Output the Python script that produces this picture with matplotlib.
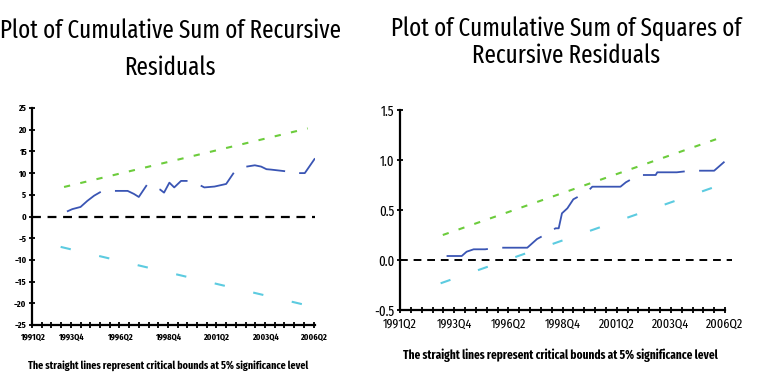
import matplotlib
matplotlib.use("Agg")
import matplotlib.pyplot as plt
from matplotlib.ticker import MultipleLocator

NARROW = ["Fira Sans Extra Condensed", "Archivo Narrow", "DejaVu Sans"]

# quarter index on the x axis (0 = 1991Q2)
tick_pos_cusum = [0, 8, 18, 28, 38, 48, 58]
tick_pos_cusq = [0, 10, 20, 30, 40, 50, 60]
tick_labels = ["1991Q2", "1993Q4", "1996Q2", "1998Q4", "2001Q2", "2003Q4", "2006Q2"]

# CUSUM of recursive residuals
cusum_q = [7.2, 8.3, 10.0, 11.4, 12.8, 14.5, 17.2, 19.7, 21.0, 22.0, 23.8,
           26.4, 27.2, 28.3, 29.3, 30.7, 33.1, 34.1, 35.5, 37.6, 40.0,
           41.7, 43.1, 45.9, 47.2, 48.3, 49.3, 52.4, 53.1, 56.2, 58.3]
cusum_v = [1.15, 1.7, 2.2, 3.6, 4.8, 5.9, 5.9, 5.9, 5.2, 4.5, 7.5,
           6.2, 5.5, 7.8, 6.7, 8.2, 8.2, 7.5, 6.7, 6.9, 7.5,
           10.3, 11.3, 11.8, 11.5, 10.9, 10.8, 10.4, 10.0, 10.0, 13.4]
cusum_upper_q = [6.6, 56.8]
cusum_upper_v = [6.8, 20.3]
cusum_lower_q = [5.9, 57.9]
cusum_lower_v = [-7.0, -20.8]

# CUSUM of squares of recursive residuals
cusq_q = [8.6, 11.4, 12.3, 13.6, 15.7, 18.2, 23.5, 25.3, 27.8, 28.7, 29.3,
          29.9, 30.9, 32.0, 34.6, 35.5, 40.7, 41.7, 44.1, 47.2, 47.5, 51.1,
          53.7, 58.0, 59.9]
cusq_v = [0.04, 0.04, 0.083, 0.107, 0.107, 0.123, 0.123, 0.21, 0.283, 0.317,
          0.317, 0.467, 0.517, 0.607, 0.683, 0.733, 0.733, 0.777, 0.85, 0.85,
          0.877, 0.877, 0.893, 0.893, 0.983]
cusq_upper_q = [7.9, 59.0]
cusq_upper_v = [0.25, 1.22]
cusq_lower_q = [7.5, 58.6]
cusq_lower_v = [-0.233, 0.74]

BLUE = "#3a55b4"
GREEN = "#6ccc3c"
CYAN = "#5ccbe0"

caption = "The straight lines represent critical bounds at 5% significance level"

fig = plt.figure(figsize=(7.68, 3.75), dpi=100)
W, H = 768.0, 375.0


def add_axes(left, right, top, bottom):
    return fig.add_axes([left / W, 1 - bottom / H, (right - left) / W, (bottom - top) / H])


def put_text(x, y, s, size, **kw):
    fig.text(x / W, 1 - y / H, s, ha="center", va="center", fontfamily=NARROW, fontsize=size, **kw)


def style_axes(ax, tick_pos, ysize, xsize, bold=False):
    for side in ("top", "right"):
        ax.spines[side].set_visible(False)
    for side in ("left", "bottom"):
        ax.spines[side].set_linewidth(1.6)
    ax.set_xticks(tick_pos)
    ax.set_xticklabels(tick_labels, fontfamily=NARROW, fontsize=xsize,
                       fontweight="bold" if bold else "normal")
    ax.xaxis.set_minor_locator(MultipleLocator(2))
    ax.tick_params(axis="x", which="both", direction="inout", length=5, width=1.3, pad=3)
    ax.tick_params(axis="y", which="both", direction="inout", length=4, width=1.3, pad=2)
    for lab in ax.get_yticklabels():
        lab.set_fontfamily(NARROW)
        lab.set_fontsize(ysize)
        if bold:
            lab.set_fontweight("bold")


# left panel: CUSUM
ax1 = add_axes(32, 315, 108, 325)
ax1.plot(cusum_upper_q, cusum_upper_v, color=GREEN, lw=1.5, dashes=(3, 5))
ax1.plot(cusum_lower_q, cusum_lower_v, color=CYAN, lw=1.5, dashes=(5, 14))
ax1.plot(cusum_q, cusum_v, color=BLUE, lw=1.3, dashes=(22, 8))
ax1.axhline(0, color="black", lw=1.6, dashes=(4, 3))
ax1.set_xlim(0, 58.3)
ax1.set_ylim(-25, 25)
ax1.set_yticks(range(-25, 26, 5))
style_axes(ax1, tick_pos_cusum, 6.5, 6.5, bold=True)
put_text(170, 31, "Plot of Cumulative Sum of Recursive", 18)
put_text(170, 68, "Residuals", 18)
put_text(168, 366, caption, 7.8, fontweight="bold")

# right panel: CUSUM of squares
ax2 = add_axes(400, 725, 110, 310)
ax2.plot(cusq_upper_q, cusq_upper_v, color=GREEN, lw=1.5, dashes=(3, 5))
ax2.plot(cusq_lower_q, cusq_lower_v, color=CYAN, lw=1.5, dashes=(5, 14))
ax2.plot(cusq_q, cusq_v, color=BLUE, lw=1.3, dashes=(24, 8))
ax2.axhline(0, color="black", lw=1.4, xmax=1.02, clip_on=False, dashes=(4, 3))
ax2.set_xlim(0, 60)
ax2.set_ylim(-0.5, 1.5)
ax2.set_yticks([-0.5, 0.0, 0.5, 1.0, 1.5])
ax2.set_yticklabels(["-0.5", "0.0", "0.5", "1.0", "1.5"])
style_axes(ax2, tick_pos_cusq, 10, 9.5)
put_text(566, 29, "Plot of Cumulative Sum of Squares of", 18)
put_text(566, 56, "Recursive Residuals", 18)
put_text(560, 355, caption, 8.8, fontweight="bold")

fig.savefig("out.png", dpi=100)
